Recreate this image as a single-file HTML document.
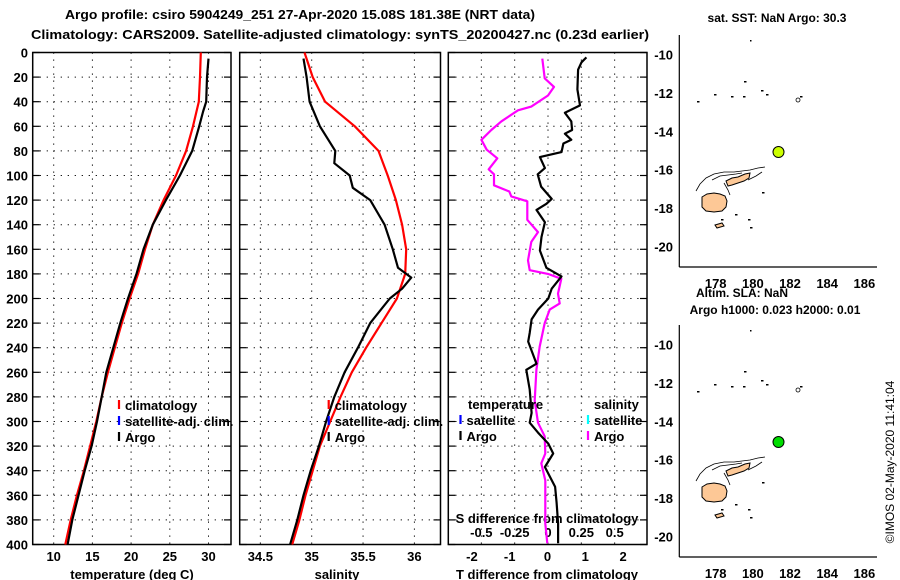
<!DOCTYPE html>
<html><head><meta charset="utf-8"><title>Argo profile</title>
<style>
html,body{margin:0;padding:0;background:#fff;}
svg{display:block;font-family:"Liberation Sans",sans-serif;font-weight:bold;}
</style></head>
<body>
<svg id="chart" width="900" height="580" viewBox="0 0 900 580" xmlns="http://www.w3.org/2000/svg">
<rect x="0" y="0" width="900" height="580" fill="#fff"/>
<text x="300" y="19" font-size="13" text-anchor="middle" textLength="470" lengthAdjust="spacingAndGlyphs">Argo profile: csiro 5904249_251 27-Apr-2020 15.08S 181.38E (NRT data)</text>
<text x="340" y="39" font-size="13" text-anchor="middle" textLength="618" lengthAdjust="spacingAndGlyphs">Climatology: CARS2009. Satellite-adjusted climatology: synTS_20200427.nc (0.23d earlier)</text>
<g id="g1"></g>
<g id="g2"></g>
<g id="g3"></g>
<g id="m1"></g>
<g id="m2"></g>
<text transform="translate(894,462) rotate(-90)" font-size="12" font-weight="normal" text-anchor="middle">©IMOS 02-May-2020 11:41:04</text>
</svg>
<script>
// ---- data ----
const depthTicks = [0,20,40,60,80,100,120,140,160,180,200,220,240,260,280,300,320,340,360,380,400];
const tempTicks = [10,15,20,25,30];
const salTicks = [34.5,35,35.5,36];
const salTickLabels = ["34.5","35","35.5","36"];
const tdiffTicks = [-2,-1,0,1,2];
const sdiffTicks = [-0.5,-0.25,0,0.25,0.5];
const sdiffTickLabels = ["-0.5","-0.25","0","0.25","0.5"];

const climTempDepth = [0,20,40,60,80,100,120,140,160,180,200,220,240,260,280,300,320,340,360,380,400];
const climTemp = [29.0,28.9,28.75,28.0,27.1,25.8,24.2,22.8,21.8,20.9,19.8,18.8,17.9,17.0,16.2,15.5,14.7,13.9,13.0,12.2,11.5];
const argoTempDepth = [5,20,40,48,60,80,100,120,140,160,180,200,220,240,260,280,300,320,340,360,380,400];
const argoTemp = [30.0,29.8,29.7,29.3,28.8,27.9,26.3,24.5,22.8,21.6,20.7,19.6,18.6,17.7,16.8,16.2,15.6,14.9,14.0,13.2,12.4,11.8];

const climSalDepth = [0,20,40,60,80,100,120,140,160,180,200,220,240,260,280,300,320,340,360,380,400];
const climSal = [34.93,35.01,35.13,35.42,35.65,35.74,35.82,35.88,35.92,35.91,35.83,35.68,35.53,35.39,35.28,35.18,35.08,35.01,34.94,34.88,34.81];
const argoSalDepth = [5,20,40,60,80,90,100,110,120,140,160,175,183,192,200,220,240,260,280,300,320,340,360,380,400];
const argoSal = [34.92,34.95,34.98,35.08,35.23,35.22,35.37,35.40,35.57,35.71,35.79,35.84,35.97,35.88,35.76,35.57,35.45,35.32,35.22,35.14,35.07,34.99,34.92,34.86,34.79];

const sdiffDepth = [5,21,28,35,44,47,56,63,71,79,86,95,99,108,113,117,121,136,146,154,169,177,180,184,196,204,209,220,239,258,283,301,312,326,334,348,383,399];
const sdiff = [-0.043,-0.025,0.045,0,-0.125,-0.225,-0.35,-0.425,-0.5,-0.46,-0.38,-0.445,-0.405,-0.405,-0.29,-0.275,-0.155,-0.155,-0.075,-0.125,-0.15,-0.137,0,0.1,0.075,0.088,0.013,-0.025,-0.062,-0.087,-0.1,-0.075,-0.025,-0.02,-0.05,-0.02,-0.02,-0.005];
const tdiffDepth = [4,8,14,30,43,49,56,63,66,71,74,81,85,94,99,109,119,123,128,138,150,161,175,182,192,200,209,217,228,235,253,258,274,293,301,309,318,326,337,353,366,383,399];
const tdiff = [1.03,0.9,0.81,0.79,0.86,0.46,0.63,0.65,0.46,0.63,0.42,0.37,-0.2,-0.07,-0.26,-0.17,0.11,-0.03,-0.29,-0.07,-0.16,-0.2,-0.03,0.37,0.11,0.02,-0.25,-0.42,-0.47,-0.51,-0.29,-0.56,-0.47,-0.42,-0.47,-0.25,0.02,0.15,-0.07,0.2,0.24,0.28,0.28];

const mapLonTicks = [178,180,182,184,186];
const mapLatTicks = [-10,-12,-14,-16,-18,-20];
const argoLon = [181.38];
const argoLat = [-15.08];

// ---- scales ----
const NS="http://www.w3.org/2000/svg";
const yD = d => 52.5 + d*1.23;
const xT = t => 53.7 + (t-10)*7.74;
const xS = s => 311.7 + (s-35)*102.7;
const xdT = t => 547.5 + t*37.8;
const xdS = s => 548 + s*133.3;
const lonX = l => 715.7 + (l-178)*18.58;
const latY = (l,off) => 54.3 + off + (-10-l)*19.24;

function mk(parent,tag,attrs,text){
  const e=document.createElementNS(NS,tag);
  for(const k in attrs) e.setAttribute(k,attrs[k]);
  if(text!==undefined) e.textContent=text;
  parent.appendChild(e); return e;
}
function poly(g,xs,ys,color,name){
  const pts=xs.map((x,i)=>x.toFixed(1)+","+ys[i].toFixed(1)).join(" ");
  const p=mk(g,"polyline",{points:pts,fill:"none",stroke:color,"stroke-width":2.2,"stroke-linejoin":"round"});
  
  
}
function frame(g,x0,x1,vgrid,labelDepth,name){
  const top=yD(0), bot=yD(400);
  depthTicks.forEach(d=>{
    if(d>0&&d<400) mk(g,"line",{x1:x0,x2:x1,y1:yD(d),y2:yD(d),stroke:"#000","stroke-width":1,"stroke-dasharray":"1.2,5.8"});
    mk(g,"line",{x1:x0,x2:x0+7,y1:yD(d),y2:yD(d),stroke:"#000","stroke-width":1.2});
    mk(g,"line",{x1:x1-7,x2:x1,y1:yD(d),y2:yD(d),stroke:"#000","stroke-width":1.2});
    if(labelDepth){
      const t=mk(g,"text",{x:28,y:yD(d)+5,"font-size":13,"text-anchor":"end"},String(d));
      
      
    }
  });
  vgrid.forEach(x=>{
    mk(g,"line",{x1:x,x2:x,y1:top,y2:bot,stroke:"#000","stroke-width":1,"stroke-dasharray":"1.2,5.8"});
  });
  const r=mk(g,"rect",{x:x0,y:top,width:x1-x0,height:bot-top,fill:"none",stroke:"#000","stroke-width":1.5});
  
  
}
function legendRow(g,x,y,color,label){
  if(color) mk(g,"line",{x1:x,x2:x,y1:y-10,y2:y-1,stroke:color,"stroke-width":2.2});
  const t=mk(g,"text",{x:x+6,y:y,"font-size":13},label);
  
  
}

// ---- panel 1 ----
const g1=document.getElementById("g1");
frame(g1,32.7,231,tempTicks.map(xT),true,"temperature-plot-frame");
tempTicks.forEach(t=>{
  const e=mk(g1,"text",{x:xT(t),y:561,"font-size":13,"text-anchor":"middle"},String(t));
  
  
});
mk(g1,"text",{x:132,y:579,"font-size":13,"text-anchor":"middle"},"temperature (deg C)");
poly(g1,climTemp.map(xT),climTempDepth.map(yD),"#ff0000","climatology-temperature-line");
poly(g1,argoTemp.map(xT),argoTempDepth.map(yD),"#000","argo-temperature-line");
legendRow(g1,119,410,"#ff0000","climatology");
legendRow(g1,119,426,"#0000ff","satellite-adj. clim.");
legendRow(g1,119,442,"#000","Argo");

// ---- panel 2 ----
const g2=document.getElementById("g2");
frame(g2,239.7,440.5,salTicks.map(xS),false,"salinity-plot-frame");
salTicks.forEach((s,i)=>{
  const e=mk(g2,"text",{x:xS(s),y:561,"font-size":13,"text-anchor":"middle"},salTickLabels[i]);
  
  
});
mk(g2,"text",{x:337,y:579,"font-size":13,"text-anchor":"middle"},"salinity");
poly(g2,climSal.map(xS),climSalDepth.map(yD),"#ff0000","climatology-salinity-line");
poly(g2,argoSal.map(xS),argoSalDepth.map(yD),"#000","argo-salinity-line");
legendRow(g2,328.7,410,"#ff0000","climatology");
legendRow(g2,328.7,426,"#0000ff","satellite-adj. clim.");
legendRow(g2,328.7,442,"#000","Argo");

// ---- panel 3 ----
const g3=document.getElementById("g3");
frame(g3,448.3,647,sdiffTicks.map(xdS),false,"difference-plot-frame");
tdiffTicks.forEach(t=>{
  const e=mk(g3,"text",{x:xdT(t),y:561,"font-size":13,"text-anchor":"middle"},String(t));
  
  
});
sdiffTicks.forEach((s,i)=>{
  const e=mk(g3,"text",{x:xdS(s),y:537,"font-size":13,"text-anchor":"middle"},sdiffTickLabels[i]);
  
  
});
mk(g3,"text",{x:547,y:523,"font-size":13,"text-anchor":"middle"},"S difference from climatology");
mk(g3,"text",{x:547,y:579,"font-size":13,"text-anchor":"middle"},"T difference from climatology");
poly(g3,sdiff.map(xdS),sdiffDepth.map(yD),"#ff00ff","argo-salinity-difference-line");
poly(g3,tdiff.map(xdT),tdiffDepth.map(yD),"#000","argo-temperature-difference-line");
legendRow(g3,462,409,null,"temperature");
legendRow(g3,588,409,null,"salinity");
legendRow(g3,460.5,425,"#0000ff","satellite");
legendRow(g3,460.5,441,"#000","Argo");
legendRow(g3,588,425,"#00ffff","satellite");
legendRow(g3,588,441,"#ff00ff","Argo");

// ---- maps ----
function drawMap(g,off,dotColor,titles){
  titles.forEach(t=>{
    const e=mk(g,"text",{x:t[0],y:t[1],"font-size":12,"text-anchor":"middle"},t[2]);
    
    
  });
  const top=35+off, bot=267+off, left=679.3, right=877;
  mk(g,"line",{x1:left,x2:left,y1:top,y2:bot,stroke:"#000","stroke-width":1.2});
  mk(g,"line",{x1:left,x2:right,y1:bot,y2:bot,stroke:"#000","stroke-width":1.2});
  mapLatTicks.forEach(l=>{
    const e=mk(g,"text",{x:673,y:latY(l,off)+5,"font-size":13,"text-anchor":"end"},String(l));
    
    
  });
  mapLonTicks.forEach(l=>{
    const e=mk(g,"text",{x:lonX(l),y:bot+21,"font-size":13,"text-anchor":"middle"},String(l));
    
    
  });
  const c=mk(g,"g",{transform:"translate(0,"+off+")"});
  
  
  mk(c,"path",{d:"M696,191 L700,184 L706,178 L714,174 L724,172 L734,172 L742,171 L750,170 L758,168 L765,167 M712,180 L720,176 L728,175 L736,174 L742,173 M724,183 L728,190 L730,195 M735,182 L740,180 M748,180 L756,176 L762,172",fill:"none",stroke:"#000","stroke-width":0.8});
  mk(c,"path",{d:"M702,197 L707,194 L714,193 L720,194 L725,196 L727,201 L726,207 L722,211 L714,212 L706,211 L702,207 Z",fill:"#fdc896",stroke:"#000","stroke-width":1});
  mk(c,"path",{d:"M726,181 L732,178 L738,177 L745,174 L750,173 L749,178 L744,181 L738,183 L732,185 L728,186 Z",fill:"#fdc896",stroke:"#000","stroke-width":1});
  mk(c,"path",{d:"M715,225 L722,223 L724,226 L717,228 Z",fill:"#fdc896",stroke:"#000","stroke-width":1});
  [[697,101],[743,96],[744,81],[761,90],[766,94],[800,96],[731,96],[750,227],[748,219],[721,219],[735,214],[762,192],[714,94]].forEach(p=>{
    mk(c,"rect",{x:p[0],y:p[1],width:2.5,height:1.5,fill:"#000"});
  });
  mk(c,"circle",{cx:798,cy:100,r:2,fill:"none",stroke:"#000","stroke-width":0.8});
  mk(c,"rect",{x:750,y:40,width:1.5,height:1.5,fill:"#000"});
  const d=mk(g,"circle",{cx:lonX(argoLon[0]),cy:latY(argoLat[0],off),r:5.5,fill:dotColor,stroke:"#000","stroke-width":1});
  
  
}
drawMap(document.getElementById("m1"),0,"#ccff00",[[777,22,"sat. SST: NaN Argo: 30.3"]]);
drawMap(document.getElementById("m2"),290,"#00dd00",[[742,297,"Altim. SLA: NaN"],[775,314,"Argo h1000: 0.023 h2000: 0.01"]]);
</script>
</body></html>
